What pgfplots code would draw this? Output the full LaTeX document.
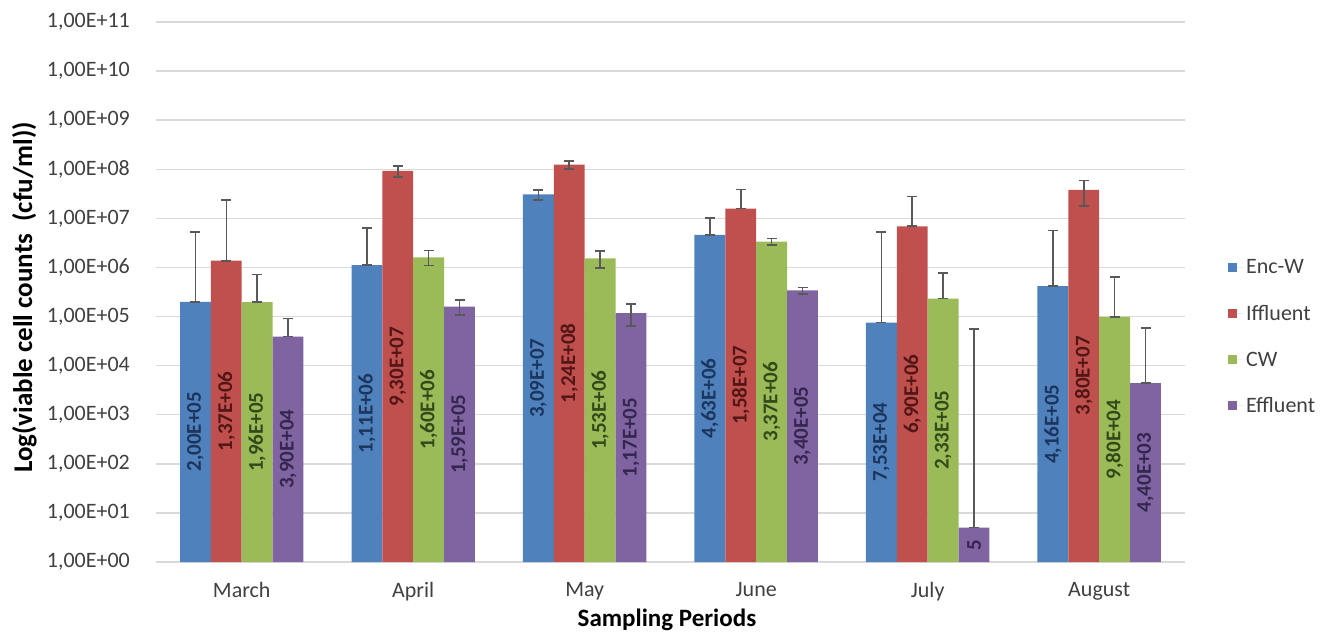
\documentclass[border=0pt]{standalone}
\usepackage{pgfplots}
\pgfplotsset{compat=1.18}
\usepackage{pgfplotstable}
\usepackage{fontspec}
\setmainfont{Carlito}
\definecolor{cEnc}{HTML}{4F81BD}
\definecolor{cIff}{HTML}{C0504D}
\definecolor{cCW}{HTML}{9BBB59}
\definecolor{cEff}{HTML}{8064A2}
\definecolor{tEnc}{HTML}{1C355C}
\definecolor{tIff}{HTML}{521616}
\definecolor{tCW}{HTML}{34491A}
\definecolor{tEff}{HTML}{34264F}
\definecolor{gridc}{HTML}{D9D9D9}
\definecolor{errc}{HTML}{595959}
\definecolor{tickc}{HTML}{404040}

% v = value, ep = upper error, em = lower error
\pgfplotstableread{
v ep em lab
2.00e5 5.1e6 0 2,00E+05
1.11e6 5.2e6 0 1,11E+06
3.09e7 7.0e6 7.0e6 3,09E+07
4.63e6 5.4e6 0 4,63E+06
7.53e4 5.2e6 0 7,53E+04
4.16e5 5.2e6 0 4,16E+05
}\tabEnc
\pgfplotstableread{
v ep em lab
1.37e6 2.2e7 0 1,37E+06
9.30e7 2.4e7 2.4e7 9,30E+07
1.24e8 2.3e7 2.3e7 1,24E+08
1.58e7 2.3e7 0 1,58E+07
6.90e6 2.1e7 0 6,90E+06
3.80e7 2.1e7 2.0e7 3,80E+07
}\tabIff
\pgfplotstableread{
v ep em lab
1.96e5 5.2e5 0 1,96E+05
1.60e6 6.0e5 5.0e5 1,60E+06
1.53e6 6.5e5 5.5e5 1,53E+06
3.37e6 5.3e5 5.3e5 3,37E+06
2.33e5 5.3e5 0 2,33E+05
9.80e4 5.5e5 0 9,80E+04
}\tabCW
\pgfplotstableread{
v ep em lab
3.90e4 5.3e4 0 3,90E+04
1.59e5 6.0e4 5.0e4 1,59E+05
1.17e5 6.3e4 5.2e4 1,17E+05
3.40e5 5.0e4 5.0e4 3,40E+05
5 5.5e4 0 5
4.40e3 5.4e4 0 4,40E+03
}\tabEff

\newcommand{\tickfont}{\fontsize{22bp}{26bp}\selectfont}
\newcommand{\labfont}{\fontsize{21bp}{25bp}\selectfont\bfseries}

\pgfplotsset{
  barstyle/.style={ybar, bar width=0.18, bar shift=0pt, draw=none,
    error bars/y dir=both, error bars/y explicit,
    error bars/error bar style={line width=1.6bp, color=errc},
    error bars/error mark options={rotate=90, line width=1.6bp, color=errc, mark size=5bp}},
  labstyle/.style={forget plot, only marks, mark=none, nodes near coords,
    point meta=explicit symbolic,
    every node near coord/.style={rotate=90, anchor=center, inner sep=0pt, font=\labfont, text=#1}},
}

\begin{document}
\begin{tikzpicture}
\begin{axis}[
  name=ax,
  scale only axis,
  width=1029bp, height=540bp,
  ymode=log, ymin=1, ymax=1e11,
  xmin=-0.5, xmax=5.5,
  axis line style={draw=none},
  major tick length=0pt,
  minor tick length=0pt,
  yminorticks=false,
  ymajorgrids,
  grid style={line width=1.5bp, color=gridc},
  ytick={1,10,100,1e3,1e4,1e5,1e6,1e7,1e8,1e9,1e10,1e11},
  yticklabels={{1,00E+00},{1,00E+01},{1,00E+02},{1,00E+03},{1,00E+04},{1,00E+05},{1,00E+06},{1,00E+07},{1,00E+08},{1,00E+09},{1,00E+10},{1,00E+11}},
  yticklabel style={font=\tickfont, text=tickc, anchor=east, inner sep=0pt, xshift=-26bp},
  xtick={0,1,2,3,4,5},
  xticklabels={March,April,May,June,July,August},
  xticklabel style={font=\tickfont, text=tickc, anchor=north, inner sep=0pt, yshift=-20bp},
  xlabel={Sampling Periods},
  every axis x label/.style={at={(axis description cs:0.4966,-0.107)}, anchor=center, font=\fontsize{25bp}{29bp}\selectfont\bfseries},
  ylabel={Log(viable cell counts\ \ (cfu/ml))},
  every axis y label/.style={at={(axis description cs:-0.128,0.49)}, rotate=90, anchor=center, font=\fontsize{27bp}{31bp}\selectfont\bfseries},
  legend style={at={(axis description cs:1.0418,0.4167)}, anchor=west, draw=none, fill=none,
    font=\fontsize{22bp}{25bp}\selectfont, text=tickc, row sep=26bp, inner sep=0pt},
  legend cell align=left,
  legend image code/.code={\fill[#1,draw=none] (0bp,-4.5bp) rectangle (9bp,4.5bp); \path (0bp,0bp) -- (16bp,0bp);},
]
\addplot[barstyle, fill=cEnc] table[x expr=\coordindex-0.27, y=v, y error plus=ep, y error minus=em]{\tabEnc};
\addlegendentry{Enc-W}
\addplot[barstyle, fill=cIff] table[x expr=\coordindex-0.09, y=v, y error plus=ep, y error minus=em]{\tabIff};
\addlegendentry{Iffluent}
\addplot[barstyle, fill=cCW] table[x expr=\coordindex+0.09, y=v, y error plus=ep, y error minus=em]{\tabCW};
\addlegendentry{CW}
\addplot[barstyle, fill=cEff] table[x expr=\coordindex+0.27, y=v, y error plus=ep, y error minus=em]{\tabEff};
\addlegendentry{Effluent}

\addplot[labstyle=tEnc] table[x expr=\coordindex-0.27, y expr={sqrt(\thisrow{v})}, meta=lab]{\tabEnc};
\addplot[labstyle=tIff] table[x expr=\coordindex-0.09, y expr={sqrt(\thisrow{v})}, meta=lab]{\tabIff};
\addplot[labstyle=tCW] table[x expr=\coordindex+0.09, y expr={sqrt(\thisrow{v})}, meta=lab]{\tabCW};
\addplot[labstyle=tEff] table[x expr=\coordindex+0.27, y expr={sqrt(\thisrow{v})}, meta=lab]{\tabEff};
\end{axis}
\pgfresetboundingbox
\path (ax.south west) ++(-156bp,-82bp) rectangle ++(1321bp,644bp);
\end{tikzpicture}
\end{document}
